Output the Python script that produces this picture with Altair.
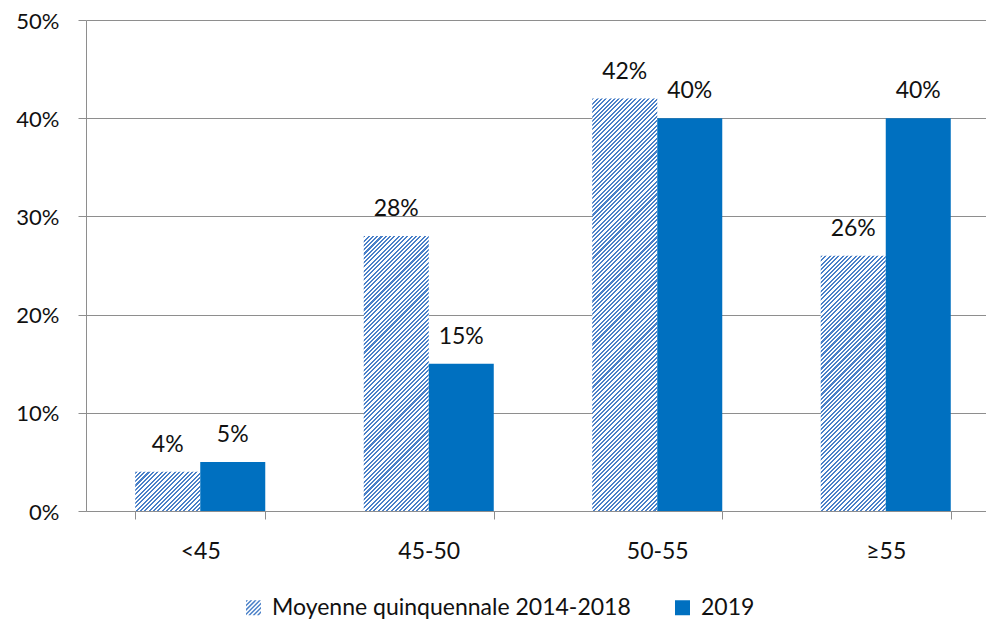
import altair as alt
import pandas as pd

categories = ["<45", "45-50", "50-55", "≥55"]
series = ["Moyenne quinquennale 2014-2018", "2019"]
moyenne = [0.04, 0.28, 0.42, 0.26]
val_2019 = [0.05, 0.15, 0.40, 0.40]

rows = []
for c, a, b in zip(categories, moyenne, val_2019):
    rows.append({"cat": c, "series": series[0], "value": a})
    rows.append({"cat": c, "series": series[1], "value": b})
df = pd.DataFrame(rows)

BLUE = "#0070C0"
HATCH = "#4a80c8"
GRID = "#8e8e8e"
TXT = "#111111"
FONT = "Lato"
FS = 23

PLOT_W = 914
PLOT_H = 491
Y_MAX = 0.5
P_IN = 0.431
P_OUT = 0.2155
BAR_W = PLOT_W / len(categories) * (1 - P_IN) / 2
PERIOD = 4.3
FRAC = 0.48


def hatch_gradient(w, h):
    s = w + h
    n = max(1, round(s / PERIOD))
    c = s / (w * w + h * h)
    stops = []
    for k in range(n):
        o0 = k / n
        o1 = (k + FRAC) / n
        o2 = (k + 1) / n
        stops += [
            {"offset": o0, "color": HATCH},
            {"offset": o1, "color": HATCH},
            {"offset": o1, "color": "#ffffff"},
            {"offset": o2, "color": "#ffffff"},
        ]
    return {"gradient": "linear", "x1": 0, "y1": 0, "x2": c * w, "y2": c * h, "stops": stops}


def clip_half(poly, f):
    out = []
    n = len(poly)
    for i in range(n):
        P = poly[i]
        Q = poly[(i + 1) % n]
        fp, fq = f(P), f(Q)
        if fp >= 0:
            out.append(P)
        if (fp >= 0) != (fq >= 0):
            t = fp / (fp - fq)
            out.append((P[0] + t * (Q[0] - P[0]), P[1] + t * (Q[1] - P[1])))
    return out


def hatch_path():
    sq = [(-1, -1), (1, -1), (1, 1), (-1, 1)]
    p = PERIOD / 7.5
    parts = []
    s = -2.0
    while s < 2.0:
        a, b = s, s + p * FRAC
        poly = clip_half(sq, lambda q: q[0] + q[1] - a)
        if poly:
            poly = clip_half(poly, lambda q: b - (q[0] + q[1]))
        if len(poly) >= 3:
            parts.append("M" + "L".join(f"{x:.3f},{y:.3f}" for x, y in poly) + "Z")
        s += p
    return "".join(parts)


x_enc = alt.X(
    "cat:N",
    sort=categories,
    scale=alt.Scale(paddingInner=P_IN, paddingOuter=P_OUT),
    axis=alt.Axis(
        title=None, labelAngle=0, tickBand="extent", tickSize=8, labelPadding=21,
        grid=False, domainColor=GRID, tickColor=GRID, labelFontSize=FS,
    ),
)
xo_enc = alt.XOffset("series:N", sort=series, scale=alt.Scale(domain=series, paddingInner=0, paddingOuter=0))
y_enc = alt.Y(
    "value:Q",
    scale=alt.Scale(domain=[0, Y_MAX], nice=False),
    axis=alt.Axis(
        title=None, values=[0, 0.1, 0.2, 0.3, 0.4, 0.5], format=".0%", grid=True,
        gridColor=GRID, domainColor=GRID, tickColor=GRID, tickSize=8, labelPadding=19,
        labelFontSize=22, labelOffset=1,
    ),
)

base = alt.Chart(df).encode(x=x_enc, xOffset=xo_enc, y=y_enc)

leg = alt.Legend(
    title=None, orient="none", legendX=156, legendY=576, direction="horizontal",
    symbolSize=225, symbolOpacity=1, symbolStrokeWidth=0, labelFontSize=FS, labelFont=FONT,
    labelColor=TXT, columnPadding=40, labelOffset=7, labelLimit=600,
)

legend_layer = base.mark_point(filled=True, opacity=0).encode(
    color=alt.Color("series:N", scale=alt.Scale(domain=series, range=[HATCH, BLUE]), legend=leg),
    shape=alt.Shape("series:N", scale=alt.Scale(domain=series, range=[hatch_path(), "square"]), legend=leg),
)

hatched_layers = []
for c, v in zip(categories, moyenne):
    h = v / Y_MAX * PLOT_H
    hatched_layers.append(
        base.transform_filter(
            (alt.datum.cat == c) & (alt.datum.series == series[0])
        ).mark_bar(fill=hatch_gradient(BAR_W, h))
    )

solid = base.transform_filter(alt.datum.series == series[1]).mark_bar(color=BLUE)

labels = base.mark_text(dy=-27, fontSize=FS, font=FONT, color=TXT).encode(
    text=alt.Text("value:Q", format=".0%")
)

chart = (
    alt.layer(legend_layer, *hatched_layers, solid, labels)
    .properties(
        width=PLOT_W,
        height=PLOT_H,
        autosize=alt.AutoSizeParams(type="none"),
        padding={"left": 78, "top": 12, "right": -14, "bottom": 111},
    )
    .configure_view(stroke=None)
    .configure_axis(labelFont=FONT, labelColor=TXT)
)

chart.save("out.html", embed_options={"renderer": "svg", "actions": False})
